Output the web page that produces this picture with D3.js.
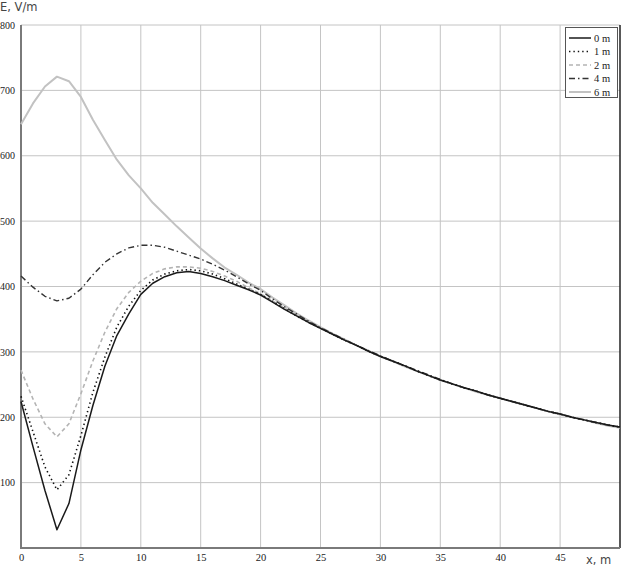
<!DOCTYPE html>
<html><head><meta charset="utf-8">
<script src="https://cdn.jsdelivr.net/npm/d3@7"></script>
<style>body{margin:0;background:#fff;}svg{display:block;}</style>
</head><body>
<svg id="chart" width="633" height="568"></svg>
<script>
const xs = d3.range(0, 51, 1);
const e0 = [224,155,88,28,68,150,218,278,325,358,388,405,415,421,423,420,415,409,402,395,387,376,365,355,345,336,327,318,310,301,293,286,279,271,264,257,251,245,240,234,229,224,219,214,209,205,200,196,192,188,185];
const e1 = [232,178,124,89,112,172,238,292,338,370,394,410,419,424,426,424,419,412,404,396,388,377,366,355,345,336,327,318,310,301,293,286,279,271,264,257,251,245,240,234,229,224,219,214,209,205,200,196,192,188,185];
const e2 = [272,228,190,170,190,236,286,330,366,391,408,420,427,430,430,428,423,416,408,398,389,378,367,356,346,336,327,318,310,301,293,286,279,271,264,257,251,245,240,234,229,224,219,214,209,205,200,196,192,188,185];
const e4 = [416,399,385,378,382,396,418,437,450,459,463,463,460,454,448,442,434,425,415,404,394,381,369,358,347,337,328,319,310,302,294,286,279,272,265,258,251,245,240,234,229,224,219,214,209,205,200,196,192,188,185];
const e6 = [648,680,706,721,714,690,655,624,594,570,550,528,510,492,475,458,443,429,418,406,396,383,371,359,348,338,328,319,310,302,293,286,278,271,264,257,251,245,239,234,229,224,219,214,209,204,200,196,191,187,184];
const seriesNames = ["0 m","1 m","2 m","4 m","6 m"];
const xTicks = [0,5,10,15,20,25,30,35,40,45];
const yTicks = [100,200,300,400,500,600,700,800];

const svg = d3.select("#chart");
const x = d3.scaleLinear().domain([0,50]).range([21,620]);
const y = d3.scaleLinear().domain([0,800]).range([548,25]);

// grid
svg.append("g").selectAll("line").data(xTicks.filter(d=>d>0)).join("line")
  .attr("x1",d=>x(d)).attr("x2",d=>x(d)).attr("y1",y(0)).attr("y2",y(800))
  .attr("stroke","#c4c4c4").attr("stroke-width",1);
svg.append("g").selectAll("line").data(yTicks).join("line")
  .attr("x1",x(0)).attr("x2",x(50)).attr("y1",d=>y(d)).attr("y2",d=>y(d))
  .attr("stroke","#c4c4c4").attr("stroke-width",1);

// frame
svg.append("line").attr("x1",x(50)).attr("x2",x(50)).attr("y1",y(0)).attr("y2",y(800))
  .attr("stroke","#222").attr("stroke-width",1.5);
svg.append("line").attr("x1",x(0)).attr("x2",x(0)).attr("y1",y(0)+1).attr("y2",y(800))
  .attr("stroke","#7a7a7a").attr("stroke-width",2);
svg.append("line").attr("x1",x(0)-1).attr("x2",x(50)).attr("y1",y(0)).attr("y2",y(0))
  .attr("stroke","#7a7a7a").attr("stroke-width",2);

// axes labels via d3 axes
const xAxis = d3.axisBottom(x).tickValues(xTicks).tickSize(0).tickPadding(6).tickFormat(d3.format("d"));
const gx = svg.append("g").attr("transform",`translate(0,${y(0)})`).call(xAxis);
gx.select(".domain").remove();
gx.selectAll("text").attr("font-family","Liberation Serif").attr("font-size",10.5).attr("fill","#222");

const yAxis = d3.axisLeft(y).tickValues(yTicks).tickSize(0).tickPadding(4).tickFormat(d3.format("d"));
const gy = svg.append("g").attr("transform",`translate(${x(0)-2},0)`).call(yAxis);
gy.select(".domain").remove();
gy.selectAll("text").attr("font-family","Liberation Serif").attr("font-size",10).attr("fill","#222");

svg.append("text").attr("x",0).attr("y",11).text("E, V/m")
  .attr("font-family","DejaVu Sans").attr("font-size",11.5).attr("fill","#444");
svg.append("text").attr("x",586).attr("y",564).text("x, m")
  .attr("font-family","DejaVu Sans").attr("font-size",11.5).attr("fill","#444");

// series
const styles = [
  {data:e0, color:"#1a1a1a", width:1.5, dash:null},
  {data:e1, color:"#111", width:1.6, dash:"1.4,3"},
  {data:e2, color:"#b4b4b4", width:1.6, dash:"4,3"},
  {data:e4, color:"#333", width:1.4, dash:"6,3,1.5,3"},
  {data:e6, color:"#c2c2c2", width:2, dash:null}
];
const line = d3.line().x((d,i)=>x(xs[i])).y(d=>y(d)).curve(d3.curveLinear);
// draw 6m first so dark lines sit on top
[4,2,3,1,0].forEach(k=>{
  const s = styles[k];
  svg.append("path").datum(s.data).attr("d",line).attr("fill","none")
    .attr("stroke",s.color).attr("stroke-width",s.width)
    .attr("stroke-dasharray",s.dash).attr("stroke-linejoin","round");
});

// legend
const lg = svg.append("g");
lg.append("rect").attr("x",565.5).attr("y",27.5).attr("width",52).attr("height",70)
  .attr("fill","#fff").attr("stroke","#555").attr("stroke-width",1);
seriesNames.forEach((n,i)=>{
  const s = styles[i];
  const yy = 38 + i*13.5;
  lg.append("line").attr("x1",569).attr("x2",591).attr("y1",yy).attr("y2",yy)
    .attr("stroke",s.color).attr("stroke-width",s.width).attr("stroke-dasharray",s.dash);
  lg.append("text").attr("x",594).attr("y",yy+3.5).text(n)
    .attr("font-family","Liberation Serif").attr("font-size",10.5).attr("fill","#222");
});
</script>
</body></html>
